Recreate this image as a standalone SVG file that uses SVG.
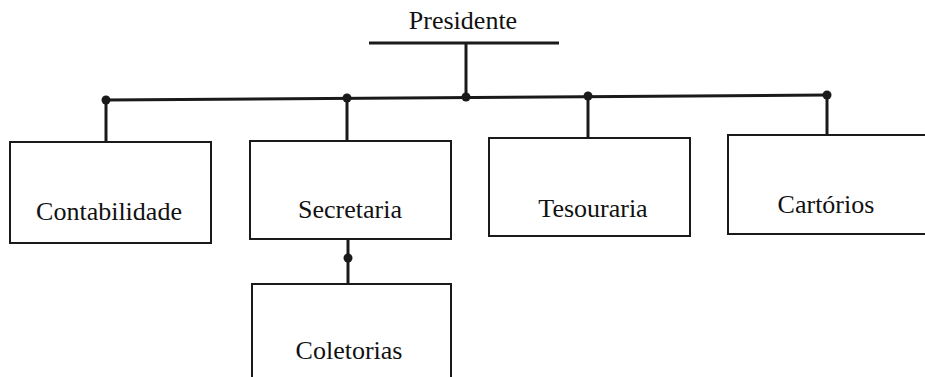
<svg xmlns="http://www.w3.org/2000/svg" width="925" height="377" viewBox="0 0 925 377">
<style>
.box{fill:none;stroke:#1a1a1a;stroke-width:2}
.con{fill:none;stroke:#1a1a1a;stroke-width:3}
.dot{fill:#1a1a1a}
.lbl{font-family:'Liberation Serif','Times New Roman','DejaVu Serif',serif;font-size:26px;fill:#111;text-anchor:middle}
</style>
<rect width="925" height="377" fill="#fff"/>
<g id="connectors">
<line class="con" x1="369" y1="43" x2="559" y2="43"/>
<line class="con" x1="466" y1="43" x2="466" y2="97"/>
<line class="con" x1="106" y1="100" x2="827" y2="95"/>
<line class="con" x1="106" y1="100" x2="106" y2="142"/>
<line class="con" x1="347" y1="98" x2="347" y2="141"/>
<line class="con" x1="588" y1="96" x2="588" y2="138"/>
<line class="con" x1="827" y1="95" x2="827" y2="135"/>
<line class="con" x1="348" y1="239" x2="348" y2="284"/>
<circle class="dot" cx="106" cy="100" r="4.5"/>
<circle class="dot" cx="347" cy="98" r="4.5"/>
<circle class="dot" cx="466" cy="97" r="4.5"/>
<circle class="dot" cx="588" cy="96" r="4.5"/>
<circle class="dot" cx="827" cy="95" r="4.5"/>
<circle class="dot" cx="348" cy="258" r="4.5"/>
</g>
<g id="presidente">
<text class="lbl" x="463" y="29" font-family="Liberation Serif, serif">Presidente</text>
</g>
<g id="contabilidade">
<rect class="box" x="10" y="142" width="201" height="101"/>
<text class="lbl" x="109" y="220" font-family="Liberation Serif, serif">Contabilidade</text>
</g>
<g id="secretaria">
<rect class="box" x="250" y="141" width="201" height="98"/>
<text class="lbl" x="350" y="218" font-family="Liberation Serif, serif">Secretaria</text>
</g>
<g id="tesouraria">
<rect class="box" x="489" y="138" width="201" height="98"/>
<text class="lbl" x="593" y="217" font-family="Liberation Serif, serif">Tesouraria</text>
</g>
<g id="cartorios">
<path class="box" d="M925,135 H728 V234 H925"/>
<text class="lbl" x="826" y="213" font-family="Liberation Serif, serif">Cartórios</text>
</g>
<g id="coletorias">
<path class="box" d="M252,377 V284 H451 V377"/>
<text class="lbl" x="349" y="359" font-family="Liberation Serif, serif">Coletorias</text>
</g>
</svg>
